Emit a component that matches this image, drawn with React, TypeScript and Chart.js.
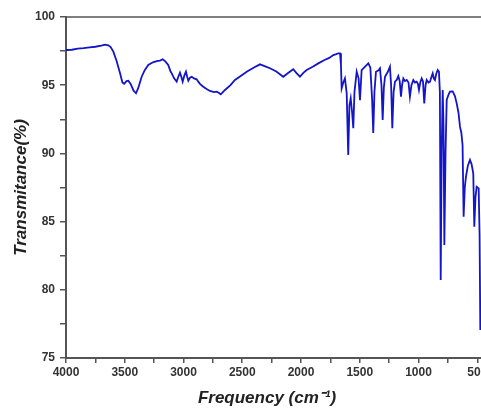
import React, { useEffect, useRef } from 'react';
import { Chart, registerables } from 'chart.js';

Chart.register(...registerables);

// Wavenumber (cm^-1), decreasing
const wavenumbers = [
  4000, 3950, 3900, 3850, 3800, 3750, 3700, 3668, 3640, 3620, 3597, 3570, 3540, 3520, 3505, 3485, 3470, 3450, 3425, 3404,
  3385, 3356, 3330, 3300, 3260, 3228, 3200, 3177, 3155, 3130, 3110, 3100, 3080, 3058, 3045, 3030, 3018, 3007, 2993, 2979,
  2968, 2959, 2945, 2930, 2910, 2888, 2874, 2860, 2832, 2800, 2775, 2740, 2718, 2700, 2683, 2665, 2647, 2600, 2562, 2510,
  2462, 2400, 2349, 2310, 2264, 2210, 2151, 2110, 2066, 2040, 2009, 1980, 1952, 1900, 1853, 1800, 1760, 1725, 1700, 1683,
  1668, 1660, 1654, 1640, 1626, 1611, 1598, 1588, 1577, 1565, 1555, 1545, 1526, 1510, 1498, 1484, 1450, 1427, 1410, 1395,
  1385, 1375, 1362, 1340, 1328, 1315, 1305, 1295, 1285, 1260, 1243, 1233, 1223, 1212, 1200, 1185, 1172, 1160, 1149, 1140,
  1129, 1115, 1100, 1085, 1073, 1060, 1044, 1030, 1016, 1005, 996, 985, 973, 962, 951, 940, 930, 915, 902, 890,
  879, 870, 860, 850, 837, 826, 818, 811, 803, 794, 787, 780, 770, 760, 745, 732, 709, 690, 675, 660,
  647, 635, 625, 616, 606, 596, 580, 562, 548, 534, 525, 515, 505, 488, 480, 474,
];

// Transmittance (%)
const transmittance = [
  97.58, 97.6, 97.68, 97.72, 97.78, 97.82, 97.9, 97.97, 97.92, 97.8, 97.46, 96.8, 95.87, 95.2, 95.1, 95.3, 95.33, 95.1, 94.6, 94.41,
  94.8, 95.62, 96.1, 96.48, 96.68, 96.77, 96.8, 96.9, 96.75, 96.48, 96.0, 95.87, 95.5, 95.26, 95.6, 95.92, 95.6, 95.26, 95.7, 95.99,
  95.6, 95.33, 95.55, 95.62, 95.5, 95.43, 95.26, 95.1, 94.89, 94.7, 94.58, 94.5, 94.53, 94.45, 94.33, 94.5, 94.65, 95.0, 95.38, 95.7,
  95.99, 96.3, 96.53, 96.4, 96.24, 96.0, 95.62, 95.9, 96.17, 95.9, 95.62, 95.9, 96.11, 96.35, 96.6, 96.85, 97.0, 97.21, 97.28, 97.34,
  97.34, 96.5, 94.77, 95.2, 95.5, 94.4, 89.88, 93.5, 94.04, 93.0, 91.84, 94.5, 95.99, 95.5, 93.9, 96.11, 96.4, 96.6, 96.3, 94.0,
  91.5, 94.5, 95.99, 96.1, 96.24, 95.0, 92.45, 94.8, 95.62, 96.0, 96.36, 95.0, 91.84, 94.5, 95.26, 95.4, 95.67, 95.3, 94.16, 95.0,
  95.5, 95.3, 95.38, 95.2, 94.16, 95.0, 95.38, 95.2, 95.26, 95.1, 94.65, 95.2, 95.5, 95.3, 93.67, 95.0, 95.38, 95.2, 95.26, 95.6,
  95.87, 95.5, 95.38, 95.8, 96.11, 95.99, 94.5, 80.72, 90.0, 94.65, 92.0, 83.29, 90.0, 93.92, 94.3, 94.53, 94.55, 94.2, 93.67, 93.0,
  91.96, 91.5, 90.62, 85.36, 87.5, 88.29, 89.1, 89.52, 89.2, 88.54, 84.63, 86.8, 87.56, 87.44, 84.0, 77.05,
];

const xTicks = [4000, 3750, 3500, 3250, 3000, 2750, 2500, 2250, 2000, 1750, 1500, 1250, 1000, 750, 500];
const xLabelTicks = [4000, 3500, 3000, 2500, 2000, 1500, 1000, 500];
const yTicks = [75, 77.5, 80, 82.5, 85, 87.5, 90, 92.5, 95, 97.5, 100];
const yLabelTicks = [75, 80, 85, 90, 95, 100];

const xTitle = 'Frequency (cm\u207B\u00B9)';
const yTitle = 'Transmitance(%)';

const FONT_FAMILY = 'Arial, "Liberation Sans", sans-serif';

const frameLines = {
  id: 'frameLines',
  afterDraw(chart: any) {
    const { ctx, chartArea } = chart;
    ctx.save();
    ctx.strokeStyle = '#555555';
    ctx.lineWidth = 1.5;
    ctx.beginPath();
    ctx.moveTo(chartArea.left, chartArea.top);
    ctx.lineTo(chartArea.right, chartArea.top);
    ctx.lineTo(chartArea.right, chartArea.bottom);
    ctx.stroke();
    // x-axis title (offset slightly left of the plot centre, as in the original)
    ctx.fillStyle = '#222222';
    ctx.font = `italic bold 17px ${FONT_FAMILY}`;
    ctx.textAlign = 'center';
    ctx.textBaseline = 'middle';
    ctx.fillText(xTitle, chartArea.left + 201, chartArea.bottom + 40);
    ctx.restore();
  },
};

export default function App() {
  const ref = useRef<HTMLCanvasElement | null>(null);

  useEffect(() => {
    if (!ref.current) return;
    const points = wavenumbers.map((w, i) => ({ x: w, y: transmittance[i] }));
    const tickFont = { family: FONT_FAMILY, size: 12, weight: 'bold' as const };
    const titleFont = { family: FONT_FAMILY, size: 17, weight: 'bold' as const, style: 'italic' as const };
    const chart = new Chart(ref.current, {
      type: 'line',
      data: {
        datasets: [
          {
            data: points,
            borderColor: '#1414c8',
            borderWidth: 1.8,
            pointRadius: 0,
            tension: 0,
            fill: false,
          },
        ],
      },
      options: {
        animation: false,
        responsive: false,
        devicePixelRatio: 1,
        layout: { padding: { top: 17, left: 0, right: 11, bottom: 0 } },
        plugins: { legend: { display: false }, tooltip: { enabled: false } },
        scales: {
          x: {
            type: 'linear',
            reverse: true,
            min: 400,
            max: 4000,
            afterBuildTicks: (s: any) => {
              s.ticks = xTicks.map((v) => ({ value: v }));
            },
            afterFit: (s: any) => {
              s.height = 52;
            },
            grid: { display: true, drawOnChartArea: false, drawTicks: true, tickLength: 5, color: '#555555', lineWidth: 1.5 },
            border: { display: true, color: '#555555', width: 2 },
            ticks: {
              autoSkip: false,
              maxRotation: 0,
              padding: 2,
              color: '#333333',
              font: tickFont,
              callback: (v: any) => (xLabelTicks.includes(Number(v)) ? String(v) : ''),
            },
            title: { display: false },
          },
          y: {
            type: 'linear',
            min: 75,
            max: 100,
            afterBuildTicks: (s: any) => {
              s.ticks = yTicks.map((v) => ({ value: v }));
            },
            afterFit: (s: any) => {
              s.width = 66;
            },
            grid: { display: true, drawOnChartArea: false, drawTicks: true, tickLength: 6, color: '#555555', lineWidth: 1.5 },
            border: { display: true, color: '#555555', width: 2 },
            ticks: {
              autoSkip: false,
              padding: 5,
              color: '#333333',
              font: tickFont,
              callback: (v: any) => (yLabelTicks.includes(Number(v)) ? String(v) : ''),
            },
            title: { display: true, text: yTitle, color: '#222222', font: titleFont, padding: { top: 11, bottom: 0 } },
          },
        },
      },
      plugins: [frameLines],
    });
    return () => chart.destroy();
  }, []);

  return (
    <div
      style={{
        position: 'fixed',
        left: 0,
        top: 0,
        width: 481,
        height: 410,
        overflow: 'hidden',
        background: '#ffffff',
      }}
    >
      <canvas ref={ref} width={500} height={410} style={{ display: 'block' }} />
    </div>
  );
}
